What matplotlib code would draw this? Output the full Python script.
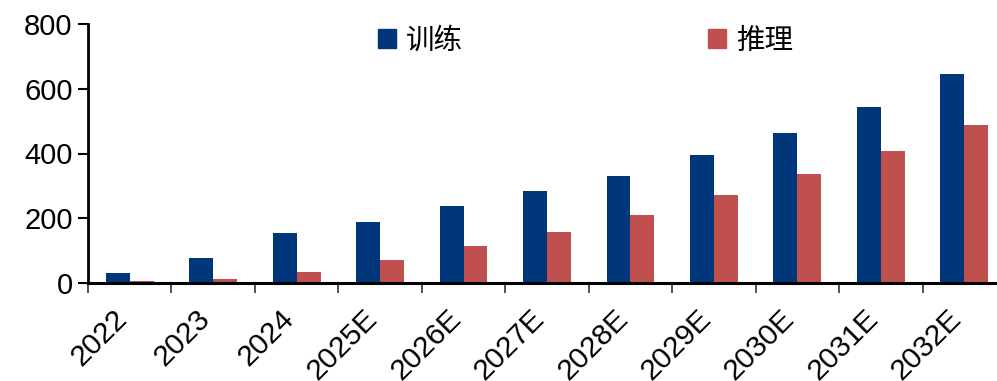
import numpy as np
import matplotlib
matplotlib.use("Agg")
import matplotlib.pyplot as plt
import matplotlib.transforms as mtransforms
from matplotlib.patches import Patch

plt.rcParams['font.family'] = ['Liberation Sans', 'Noto Sans CJK SC', 'DejaVu Sans']

years = ["2022", "2023", "2024", "2025E", "2026E", "2027E",
         "2028E", "2029E", "2030E", "2031E", "2032E"]
training = [30, 76, 154, 188, 237, 284, 330, 395, 463, 543, 645]
inference = [5, 11, 33, 70, 114, 157, 209, 271, 336, 407, 488]
series_names = ["训练", "推理"]
colors = ["#00377A", "#C0504D"]

fig = plt.figure(figsize=(9.97, 3.81), dpi=100)
ax = fig.add_axes([88 / 997, 98 / 381, 918 / 997, 259 / 381])

x = np.arange(len(years))
w = 0.287
ax.bar(x - w / 2, training, width=w, color=colors[0], zorder=2)
ax.bar(x + w / 2, inference, width=w, color=colors[1], zorder=2)

ax.set_xlim(-0.5, len(years) - 0.5)
ax.set_ylim(0, 800)
ax.set_yticks([0, 200, 400, 600, 800])

ax.set_xticks(x)
ax.set_xticklabels(years, rotation=45, ha="right", rotation_mode="anchor")
ax.set_xticks(np.arange(-0.5, len(years)), minor=True)
ax.tick_params(axis="x", which="major", length=0, pad=14, labelsize=21.5)
ax.tick_params(axis="x", which="minor", length=7, width=1.2, color="#333333")
ax.tick_params(axis="y", length=7, width=1.5, labelsize=21, pad=4)

# nudge the rotated year labels left, as in the reference
shift = mtransforms.ScaledTranslation(-17 / 100, -2 / 100, fig.dpi_scale_trans)
for lbl in ax.get_xticklabels():
    lbl.set_transform(lbl.get_transform() + shift)

for s in ["top", "right"]:
    ax.spines[s].set_visible(False)
ax.spines["left"].set_linewidth(2)
ax.spines["bottom"].set_linewidth(2.2)
ax.spines["bottom"].set_zorder(3)

handles = [Patch(color=c) for c in colors]
fig.legend(handles, series_names, loc="upper left",
           bbox_to_anchor=(378 / 997, 1 - 28 / 381), ncol=2,
           frameon=False, fontsize=20.5, borderpad=0, borderaxespad=0,
           handlelength=0.63, handleheight=0.63, handletextpad=0.35,
           columnspacing=8.6)

fig.savefig("out.png", dpi=100)
